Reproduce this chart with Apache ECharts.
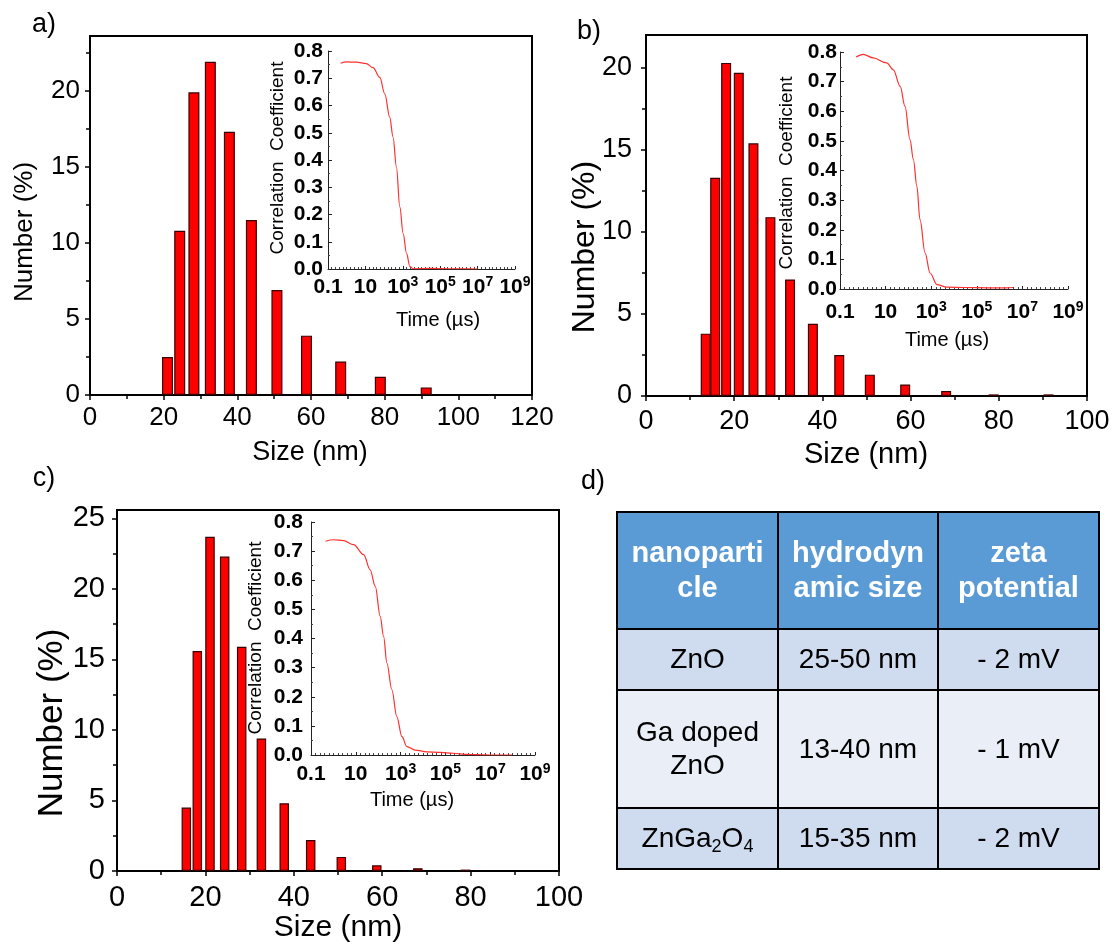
<!DOCTYPE html>
<html>
<head>
<meta charset="utf-8">
<script src="https://cdn.jsdelivr.net/npm/echarts@6/dist/echarts.min.js"></script>
<style>
  html, body { margin: 0; padding: 0; background: #fff; }
  #chart { width: 1113px; height: 947px; }
</style>
</head>
<body>
<div id="chart"></div>
<script>
// ---- Size distributions (DLS number %, bin centre in nm) ----
const sizesA = [21.04, 24.36, 28.21, 32.67, 37.84, 43.82, 50.75, 58.77, 68.06, 78.82, 91.28];
const numberA = [2.5, 10.8, 19.9, 21.9, 17.3, 11.5, 6.9, 3.9, 2.2, 1.2, 0.5];

const sizesB = [13.54, 15.69, 18.17, 21.04, 24.36, 28.21, 32.67, 37.84, 43.82, 50.75, 58.77, 68.06, 78.82, 91.28];
const numberB = [3.8, 13.3, 20.3, 19.7, 15.4, 10.9, 7.1, 4.4, 2.5, 1.3, 0.7, 0.3, 0.1, 0.1];

const sizesC = [15.69, 18.17, 21.04, 24.36, 28.21, 32.67, 37.84, 43.82, 50.75, 58.77, 68.06, 78.82];
const numberC = [4.5, 15.6, 23.7, 22.3, 15.9, 9.4, 4.8, 2.2, 1.0, 0.4, 0.2, 0.1];

// ---- Correlation functions: log10 of delay time (µs) and coefficient ----
const logTimeA = [-0.32, -0.02, 0.52, 1.05, 1.41, 1.77, 2.04, 2.30, 2.48, 2.66, 2.84, 3.02, 3.20, 3.38, 3.55, 4.5, 5.5, 6.5, 7.0];
const corrA    = [0.755, 0.760, 0.759, 0.754, 0.739, 0.703, 0.642, 0.557, 0.484, 0.374, 0.228, 0.130, 0.057, 0.009, 0.001, 0.002, 0.001, 0.001, 0.000];

const logTimeB = [-0.30, 0.02, 0.46, 1.05, 1.34, 1.64, 1.85, 2.07, 2.22, 2.37, 2.51, 2.73, 2.95, 3.25, 3.69, 4.5, 5.5, 6.3, 6.6];
const corrB    = [0.783, 0.792, 0.780, 0.763, 0.740, 0.684, 0.617, 0.504, 0.437, 0.347, 0.234, 0.122, 0.054, 0.015, 0.006, 0.005, 0.004, 0.004, 0.005];

const logTimeC = [-0.35, 0.01, 0.46, 0.90, 1.35, 1.64, 1.87, 2.09, 2.24, 2.39, 2.61, 2.83, 3.06, 3.28, 3.65, 4.17, 4.77, 5.36, 5.95, 6.4, 7.0, 8.0];
const corrC    = [0.734, 0.739, 0.736, 0.722, 0.688, 0.636, 0.579, 0.476, 0.407, 0.315, 0.224, 0.132, 0.063, 0.029, 0.017, 0.011, 0.009, 0.006, 0.002, 0.001, 0.000, 0.000];

// ---- Tick values ----
const yMajorA = [0, 5, 10, 15, 20];
const yMinorA = [2.5, 7.5, 12.5, 17.5, 22.5];
const yMajorB = [0, 5, 10, 15, 20];
const yMinorB = [2.5, 7.5, 12.5, 17.5];
const yMajorC = [0, 5, 10, 15, 20, 25];
const yMinorC = [2.5, 7.5, 12.5, 17.5, 22.5];

// ---- Table ----
const tableHeader = ['nanoparti\ncle', 'hydrodyn\namic size', 'zeta\npotential'];
const tableRows = [
  ['ZnO', '25-50 nm', '- 2 mV'],
  ['Ga doped\nZnO', '13-40 nm', '- 1 mV'],
  ['ZnGa₂O₄', '15-35 nm', '- 2 mV']
];

const FONT = '"Liberation Sans", Arial, sans-serif';

// Panel layout
const panels = [
  {
    label: 'a)', labelPos: [44, 25],
    main: { left: 90, top: 36, width: 442, height: 359 },
    inset: { left: 328, top: 51, width: 187, height: 218 },
    xMax: 120, yMax: 23.6, yMajor: yMajorA, yMinor: yMinorA,
    sizes: sizesA, numbers: numberA, barWidth: 11,
    logTime: logTimeA, corr: corrA,
    tickFont: 26, xLabelMargin: 10, yLabelMargin: 10,
    yTitle: { x: 25, y: 232, size: 26 }, xTitle: { x: 310, y: 453, size: 27 },
    insetYTitle: { x: 278, y: 158 }, insetXTitle: { x: 438, y: 320 },
    insetXMargin: 6, insetYMargin: 5
  },
  {
    label: 'b)', labelPos: [589, 32],
    main: { left: 646, top: 35, width: 441, height: 361 },
    inset: { left: 840, top: 52, width: 228, height: 237 },
    xMax: 100, yMax: 22, yMajor: yMajorB, yMinor: yMinorB,
    sizes: sizesB, numbers: numberB, barWidth: 10,
    logTime: logTimeB, corr: corrB,
    tickFont: 27, xLabelMargin: 12, yLabelMargin: 14,
    yTitle: { x: 585, y: 247, size: 32 }, xTitle: { x: 866, y: 455, size: 29 },
    insetYTitle: { x: 787, y: 173 }, insetXTitle: { x: 947, y: 340 },
    insetXMargin: 11, insetYMargin: 3
  },
  {
    label: 'c)', labelPos: [44, 479],
    main: { left: 117, top: 510, width: 442, height: 361 },
    inset: { left: 311, top: 522, width: 224, height: 233 },
    xMax: 100, yMax: 25.6, yMajor: yMajorC, yMinor: yMinorC,
    sizes: sizesC, numbers: numberC, barWidth: 9.5,
    logTime: logTimeC, corr: corrC,
    tickFont: 29, xLabelMargin: 12, yLabelMargin: 12,
    yTitle: { x: 52, y: 723, size: 35 }, xTitle: { x: 338, y: 928, size: 30 },
    insetYTitle: { x: 256, y: 638 }, insetXTitle: { x: 412, y: 800 },
    insetXMargin: 7, insetYMargin: 8
  }
];

const grid = [], xAxis = [], yAxis = [], series = [], graphic = [];

function textEl(x, y, text, size, opts) {
  return Object.assign({
    type: 'text', x: x, y: y, silent: true,
    style: Object.assign({
      text: text, fontSize: size, fontFamily: FONT, fill: '#000',
      align: 'center', verticalAlign: 'middle'
    }, (opts && opts.style) || {})
  }, (opts && opts.el) || {});
}

// Inset log-time tick labels: axis value v is decades above 0.1 µs
function timeLabel(v) {
  const e = Math.round(v) - 1;
  if (e === -1) return '0.1';
  if (e === 1) return '10';
  return '10{s|' + e + '}';
}

panels.forEach(function (p) {
  const gMain = grid.length;
  grid.push(Object.assign({ show: true, borderColor: '#000', borderWidth: 2, backgroundColor: 'transparent' }, p.main));
  const gInset = grid.length;
  grid.push(Object.assign({ show: false }, p.inset));

  // main x axis (size)
  const xMain = xAxis.length;
  xAxis.push({
    gridIndex: gMain, type: 'value', min: 0, max: p.xMax, interval: 20,
    axisLine: { show: true, onZero: false, lineStyle: { color: '#000', width: 2 } },
    axisTick: { show: true, length: 5, inside: false, lineStyle: { color: '#000', width: 1.5 } },
    minorTick: { show: true, splitNumber: 2, length: 4, lineStyle: { color: '#000', width: 1.5 } },
    axisLabel: { show: true, color: '#000', fontSize: p.tickFont, fontFamily: FONT, margin: p.xLabelMargin,
                 showMinLabel: true, showMaxLabel: true, hideOverlap: false },
    splitLine: { show: false }, minorSplitLine: { show: false }
  });
  // main y axis (number %), majors with labels
  const yMain = yAxis.length;
  yAxis.push({
    gridIndex: gMain, type: 'value', position: 'left', min: 0, max: p.yMax, interval: 5,
    axisLine: { show: true, onZero: false, lineStyle: { color: '#000', width: 2 } },
    axisTick: { show: true, length: 5, inside: false, customValues: p.yMajor, lineStyle: { color: '#000', width: 1.5 } },
    axisLabel: { show: true, color: '#000', fontSize: p.tickFont, fontFamily: FONT, margin: p.yLabelMargin,
                 customValues: p.yMajor },
    splitLine: { show: false }
  });
  // minor y ticks
  yAxis.push({
    gridIndex: gMain, type: 'value', position: 'left', offset: 0, min: 0, max: p.yMax, interval: 2.5,
    axisLine: { show: false },
    axisTick: { show: true, length: 4, inside: false, customValues: p.yMinor, lineStyle: { color: '#000', width: 1.5 } },
    axisLabel: { show: false },
    splitLine: { show: false }
  });

  series.push({
    type: 'bar', xAxisIndex: xMain, yAxisIndex: yMain,
    data: p.sizes.map(function (s, i) { return [s, p.numbers[i]]; }),
    barWidth: p.barWidth,
    itemStyle: { color: '#ff0000', borderColor: '#3a0000', borderWidth: 1.2 },
    silent: true, animation: false
  });

  // inset x axis: log10(time/0.1 µs)
  const xIn = xAxis.length;
  xAxis.push({
    gridIndex: gInset, type: 'value', min: 0, max: 10, interval: 2,
    axisLine: { show: true, onZero: false, lineStyle: { color: '#222', width: 1 } },
    axisTick: { show: true, length: 3, inside: true, lineStyle: { color: '#222', width: 1 } },
    minorTick: { show: true, splitNumber: 10, length: 2, lineStyle: { color: '#444', width: 1 } },
    axisLabel: {
      show: true, color: '#000', fontSize: 21, fontWeight: 'bold', fontFamily: FONT,
      margin: p.insetXMargin, lineHeight: 24, hideOverlap: false,
      formatter: timeLabel,
      rich: { s: { fontSize: 14, fontWeight: 'bold', fontFamily: FONT, color: '#000', lineHeight: 14, verticalAlign: 'top' } }
    },
    splitLine: { show: false }
  });
  const yIn = yAxis.length;
  yAxis.push({
    gridIndex: gInset, type: 'value', position: 'left', min: 0, max: 0.8, interval: 0.1,
    axisLine: { show: true, onZero: false, lineStyle: { color: '#222', width: 1 } },
    axisTick: { show: true, length: 4, inside: true, lineStyle: { color: '#222', width: 1 } },
    minorTick: { show: true, splitNumber: 2, length: 2, lineStyle: { color: '#444', width: 1 } },
    axisLabel: {
      show: true, color: '#000', fontSize: 21, fontWeight: 'bold', fontFamily: FONT,
      margin: p.insetYMargin, formatter: function (v) { return v.toFixed(1); }
    },
    splitLine: { show: false }
  });

  series.push({
    type: 'line', xAxisIndex: xIn, yAxisIndex: yIn,
    data: p.logTime.map(function (t, i) { return [t + 1, p.corr[i]]; }),
    showSymbol: false, smooth: 0.35, smoothMonotone: 'x',
    lineStyle: { color: '#ff3030', width: 1.2 },
    silent: true, animation: false
  });

  // titles
  graphic.push(textEl(p.labelPos[0], p.labelPos[1], p.label, 27));
  graphic.push(textEl(p.yTitle.x, p.yTitle.y, 'Number (%)', p.yTitle.size, { el: { rotation: Math.PI / 2 } }));
  graphic.push(textEl(p.xTitle.x, p.xTitle.y, 'Size (nm)', p.xTitle.size));
  graphic.push(textEl(p.insetYTitle.x, p.insetYTitle.y, 'Correlation  Coefficient', 19, { el: { rotation: Math.PI / 2 } }));
  graphic.push(textEl(p.insetXTitle.x, p.insetXTitle.y, 'Time (µs)', 20));
});

// ---- Panel d: summary table ----
graphic.push(textEl(593, 482, 'd)', 27));

const colEdges = [617, 778, 938, 1099];
const rowEdges = [512, 629, 690, 808, 869];
const headerFill = '#5b9bd5';
const rowFills = ['#cfdbee', '#e9eef7', '#cfdbee'];

// chemical formula: unicode subscript digits become rich-text subscripts
function formulaRich(str) {
  const subs = { '₀': '0', '₁': '1', '₂': '2', '₃': '3', '₄': '4', '₅': '5', '₆': '6', '₇': '7', '₈': '8', '₉': '9' };
  let out = '', buf = '';
  for (const ch of str) {
    if (subs[ch]) {
      if (buf) { out += '{t|' + buf + '}'; buf = ''; }
      out += '{s|' + subs[ch] + '}';
    } else buf += ch;
  }
  if (buf) out += '{t|' + buf + '}';
  return out;
}

function cell(ci, ri, text, fill, header) {
  const x0 = colEdges[ci], x1 = colEdges[ci + 1];
  const y0 = rowEdges[ri], y1 = rowEdges[ri + 1];
  graphic.push({
    type: 'rect', silent: true,
    shape: { x: x0, y: y0, width: x1 - x0, height: y1 - y0 },
    style: { fill: fill, stroke: '#000', lineWidth: 2 }
  });
  const hasSub = /[₀-₉]/.test(text);
  const style = {
    text: hasSub ? formulaRich(text) : text,
    fontSize: header ? 29 : 28, fontWeight: header ? 'bold' : 'normal',
    fontFamily: FONT, fill: header ? '#fff' : '#000',
    align: 'center', verticalAlign: 'middle', lineHeight: header ? 35 : 33
  };
  if (hasSub) {
    style.rich = {
      t: { fontSize: 28, fontFamily: FONT, fill: '#000', lineHeight: 34 },
      s: { fontSize: 18, fontFamily: FONT, fill: '#000', lineHeight: 18, verticalAlign: 'bottom' }
    };
  }
  graphic.push({ type: 'text', silent: true, x: (x0 + x1) / 2, y: (y0 + y1) / 2 + 1, style: style });
}

tableHeader.forEach(function (h, ci) { cell(ci, 0, h, headerFill, true); });
tableRows.forEach(function (row, ri) {
  row.forEach(function (v, ci) { cell(ci, ri + 1, v, rowFills[ri], false); });
});

const chart = echarts.init(document.getElementById('chart'), null, { renderer: 'canvas' });
chart.setOption({
  backgroundColor: '#fff',
  animation: false,
  textStyle: { fontFamily: FONT },
  grid: grid,
  xAxis: xAxis,
  yAxis: yAxis,
  series: series,
  graphic: { elements: graphic }
});
</script>
</body>
</html>
